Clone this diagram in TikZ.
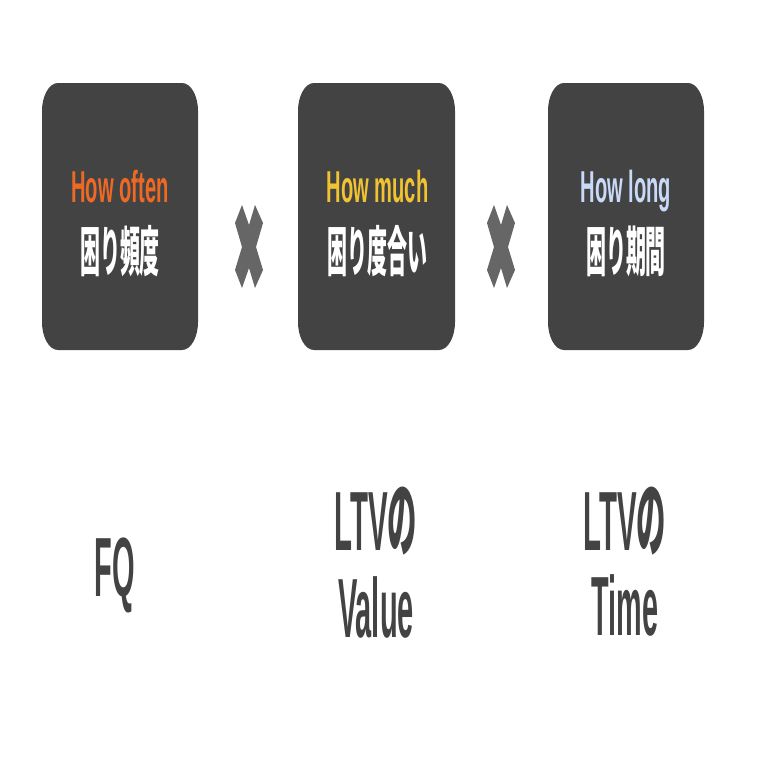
\documentclass[tikz,border=0pt]{standalone}
\usepackage{fontspec}
\setmainfont{Liberation Sans}
\newfontfamily\jp{Noto Sans CJK JP}
\definecolor{boxgray}{HTML}{434343}
\definecolor{crossgray}{HTML}{666666}
\definecolor{horange}{HTML}{EE6A24}
\definecolor{hyellow}{HTML}{F1C232}
\definecolor{hblue}{HTML}{C9DAF8}
\newcommand{\rbox}[4]{%
  \fill[boxgray] ({#1+16},#2) -- ({#3-16},#2)
    arc[start angle=90,end angle=0,x radius=16,y radius=28] -- (#3,{#4+28})
    arc[start angle=0,end angle=-90,x radius=16,y radius=28] -- ({#1+16},#4)
    arc[start angle=270,end angle=180,x radius=16,y radius=28] -- (#1,{#2-28})
    arc[start angle=180,end angle=90,x radius=16,y radius=28] -- cycle;}
\newcommand{\xmark}[1]{%
  \fill[crossgray,shift={(#1,0)}] (-7,-205) -- (0,-225) -- (6,-205) -- (14,-223) -- (7,-247)
    -- (14,-270) -- (6,-288) -- (0,-268) -- (-7,-288) -- (-14,-270) -- (-7,-247) -- (-14,-223) -- cycle;}
\tikzset{
  en/.style={anchor=base,inner sep=0pt,font=\fontsize{44.7}{44.7}\selectfont\bfseries},
  ja/.style={anchor=base,inner sep=0pt,text=white,font=\fontsize{54}{54}\selectfont\jp\bfseries},
  big/.style={anchor=base,inner sep=0pt,text=boxgray,font=\fontsize{84}{84}\selectfont\bfseries}
}
\begin{document}
\begin{tikzpicture}[x=1pt,y=1pt]
\useasboundingbox (0,0) rectangle (758,-758);
\fill[white] (0,0) rectangle (758,-758);
\rbox{42}{-83}{198}{-350}
\rbox{298}{-83}{455}{-350}
\rbox{548}{-83}{704}{-350}
\xmark{249}
\xmark{501}
\node[en,text=horange] (t1) at (120,-202) {\scalebox{0.45}[1]{How often}};
\node[en,text=hyellow] (t2) at (377.5,-202) {\scalebox{0.45}[1]{How much}};
\node[en,text=hblue] (t3) at (626,-202) {\scalebox{0.45}[1]{How long}};
\node[ja] (j1) at (120,-271) {\scalebox{0.37}[1]{困り頻度}};
\node[ja] (j2) at (377.5,-271) {\scalebox{0.37}[1]{困り度合い}};
\node[ja] (j3) at (626,-271) {\scalebox{0.37}[1]{困り期間}};
\node[big] (b1) at (115,-596) {\scalebox{0.345}[1]{FQ}};
\node[big] (b2a) at (376,-550) {\scalebox{0.35}[1]{LTV{\jp\bfseries の}}};
\node[big] (b2b) at (376,-637) {\scalebox{0.345}[1]{Value}};
\node[big] (b3a) at (625,-550) {\scalebox{0.35}[1]{LTV{\jp\bfseries の}}};
\node[big] (b3b) at (625,-635) {\scalebox{0.343}[1]{Time}};
\end{tikzpicture}
\end{document}
